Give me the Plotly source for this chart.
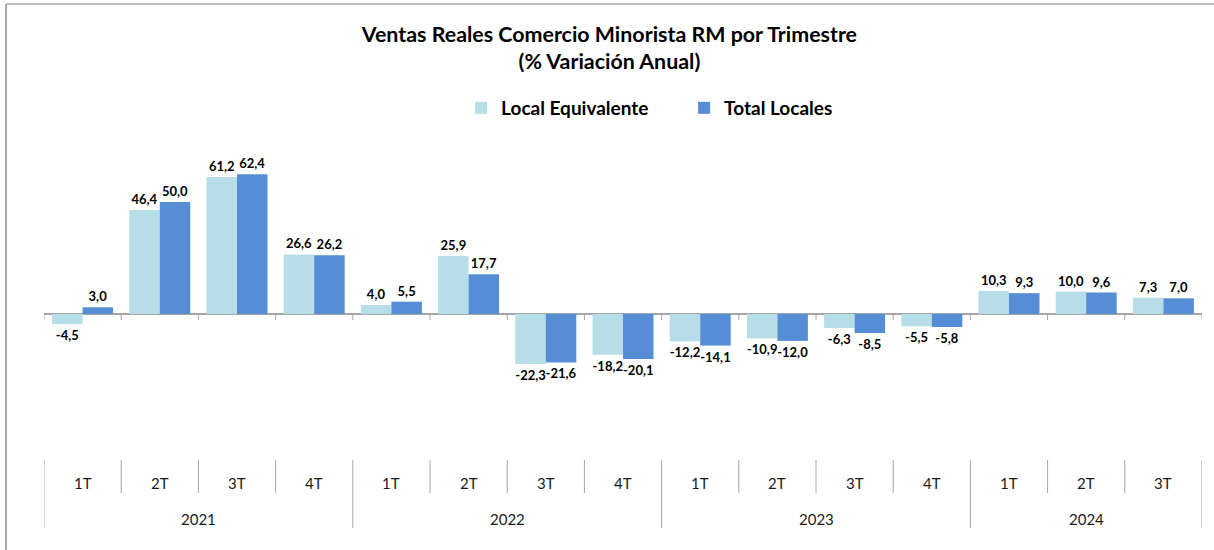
import plotly.graph_objects as go

years = ["2021", "2022", "2023", "2024"]
quarters = ["1T", "2T", "3T", "4T", "1T", "2T", "3T", "4T", "1T", "2T", "3T", "4T", "1T", "2T", "3T"]
quarter_year = ["2021"] * 4 + ["2022"] * 4 + ["2023"] * 4 + ["2024"] * 3
local_equivalente = [-4.5, 46.4, 61.2, 26.6, 4.0, 25.9, -22.3, -18.2, -12.2, -10.9, -6.3, -5.5, 10.3, 10.0, 7.3]
total_locales = [3.0, 50.0, 62.4, 26.2, 5.5, 17.7, -21.6, -20.1, -14.1, -12.0, -8.5, -5.8, 9.3, 9.6, 7.0]

W, H = 1214, 550
ML, MR, MT, MB = 44, 12, 130, 90
FONT = "Lato"
C_LIGHT = "#B7DDE8"
C_DARK = "#558ED5"
GRID = "#a6a6a6"

def fmt(v):
    return f"{v:.1f}".replace(".", ",")

xs = list(range(len(quarters)))

fig = go.Figure()
for name, vals, col in [("Local Equivalente", local_equivalente, C_LIGHT),
                        ("Total Locales", total_locales, C_DARK)]:
    fig.add_trace(go.Bar(
        x=xs, y=vals, name=f"<b>{name}</b>", marker=dict(color=col, line=dict(width=0)),
        text=[fmt(v) for v in vals], textposition="outside",
        textfont=dict(family=FONT, size=13, color="#000000", weight="bold"),
        constraintext="none", cliponaxis=False,
    ))

plot_h = H - MT - MB
def py(px):  # pixel y -> paper y
    return (H - MB - px) / plot_h

shapes = []
n = len(quarters)
# boundary ticks on zero line
for i in range(n + 1):
    shapes.append(dict(type="line", xref="x", yref="y", x0=i - 0.5, x1=i - 0.5,
                       ysizemode="pixel", yanchor=0, y0=0, y1=-6,
                       line=dict(color=GRID, width=1)))
# separators in label area
year_bounds = set([-0.5, n - 0.5])
for i in range(1, n):
    if quarter_year[i] != quarter_year[i - 1]:
        year_bounds.add(i - 0.5)
for i in range(n + 1):
    b = i - 0.5
    long = b in year_bounds
    shapes.append(dict(type="line", xref="x", yref="paper", x0=b, x1=b,
                       y0=py(460), y1=py(528 if long else 493),
                       line=dict(color=GRID, width=1)))
# outer border (top and left)
shapes.append(dict(type="line", xref="paper", yref="paper",
                   x0=(6 - ML) / (W - ML - MR), x1=(1214 - ML) / (W - ML - MR),
                   y0=py(4), y1=py(4), line=dict(color="#c0c0c0", width=2)))
shapes.append(dict(type="line", xref="paper", yref="paper",
                   x0=(6 - ML) / (W - ML - MR), x1=(6 - ML) / (W - ML - MR),
                   y0=py(4), y1=py(560), line=dict(color="#8c8c8c", width=1.5)))

annotations = []
for i, q in enumerate(quarters):
    annotations.append(dict(x=i, y=py(483), xref="x", yref="paper", text=q,
                            showarrow=False, font=dict(family=FONT, size=15, color="#1a1a1a"),
                            xanchor="center", yanchor="middle"))
for yr in years:
    idx = [i for i, y in enumerate(quarter_year) if y == yr]
    annotations.append(dict(x=(idx[0] + idx[-1]) / 2, y=py(519), xref="x", yref="paper", text=yr,
                            showarrow=False, font=dict(family=FONT, size=15, color="#1a1a1a"),
                            xanchor="center", yanchor="middle"))

fig.update_layout(
    width=W, height=H,
    margin=dict(l=ML, r=MR, t=MT, b=MB, autoexpand=False),
    paper_bgcolor="white", plot_bgcolor="white",
    barmode="group", bargap=0.21, bargroupgap=0,
    title=dict(text="<b>Ventas Reales Comercio Minorista RM por Trimestre<br>(% Variación Anual)</b>",
               x=0.502, xref="container", xanchor="center",
               y=1 - 41.5 / H, yref="container", yanchor="middle",
               font=dict(family=FONT, size=21.4, color="#000000")),
    legend=dict(orientation="h", x=0.5635, xref="container", xanchor="center",
                y=1 - 108 / H, yref="container", yanchor="middle",
                font=dict(family=FONT, size=19, color="#000000"),
                entrywidth=178, traceorder="normal"),
    xaxis=dict(range=[-0.5, n - 0.5], visible=False, fixedrange=True),
    yaxis=dict(range=[-(460 - 314) / 2.24, (314 - 130) / 2.24], showgrid=False,
               showticklabels=False, ticks="", zeroline=True, zerolinecolor=GRID,
               zerolinewidth=1.5, showline=False, fixedrange=True),
    shapes=shapes, annotations=annotations,
    font=dict(family=FONT),
)
fig.write_html("out.html", config={"displayModeBar": False},
               post_script="document.body.style.margin='0';document.body.style.overflow='hidden';")
